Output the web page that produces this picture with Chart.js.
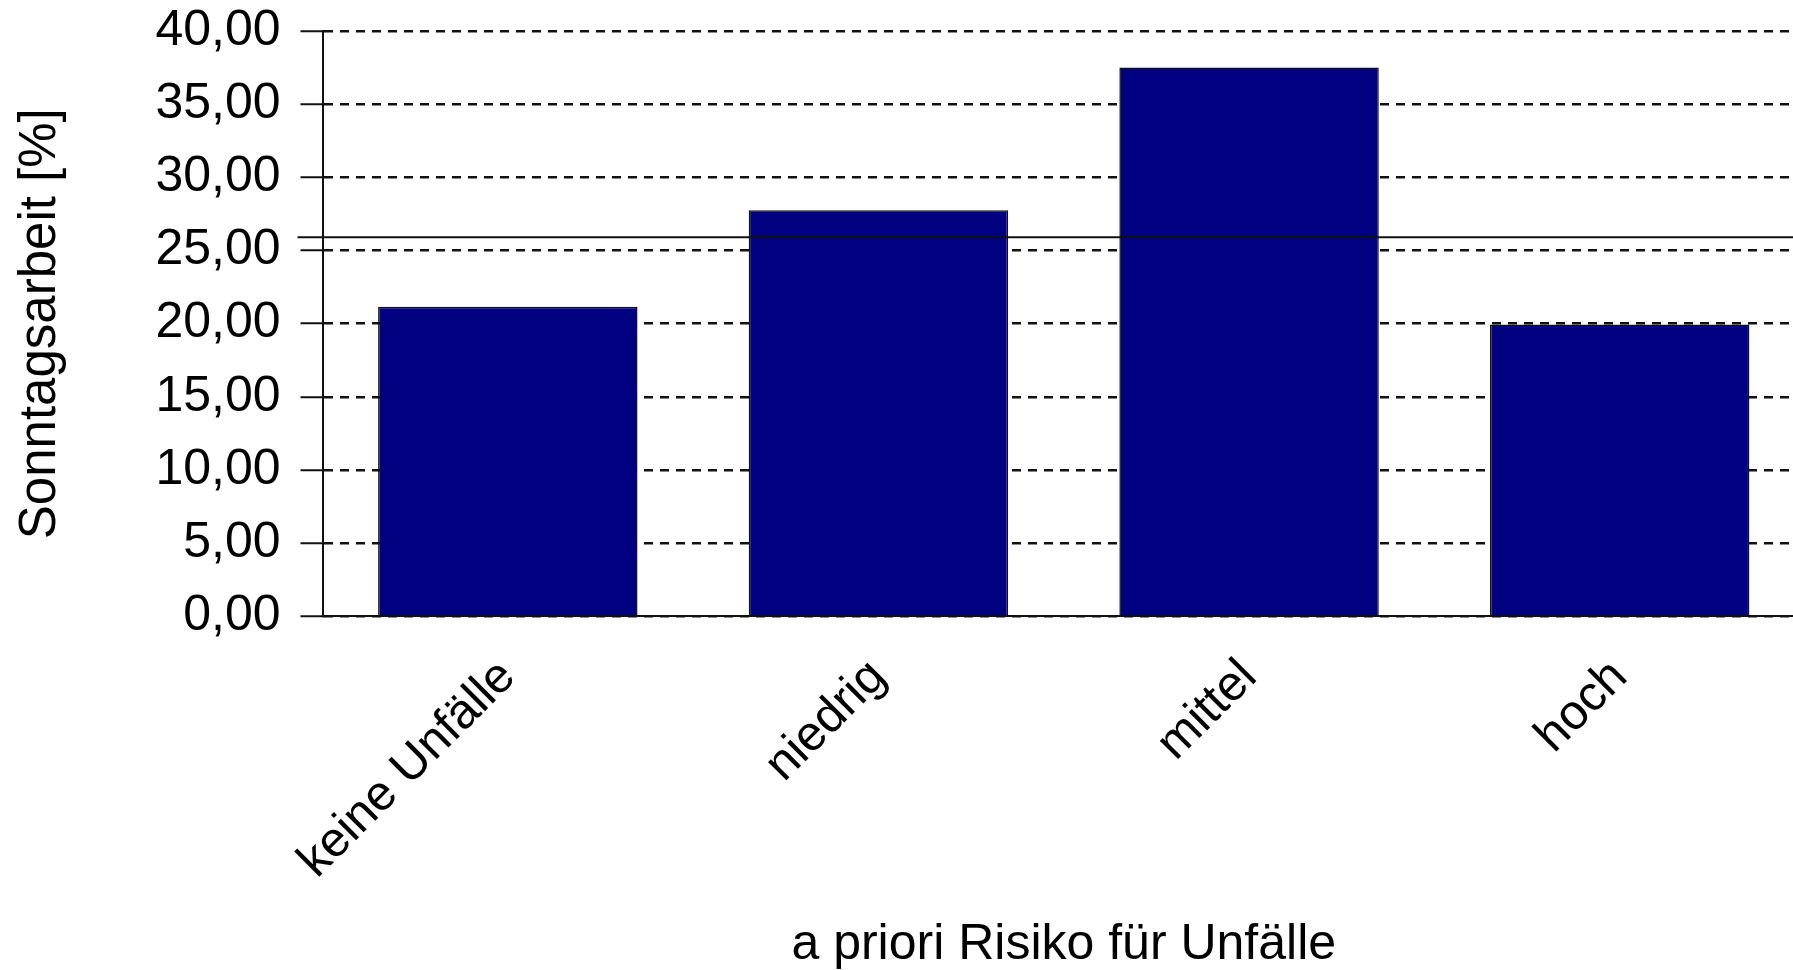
<!DOCTYPE html>
<html>
<head>
<meta charset="utf-8">
<script src="https://cdn.jsdelivr.net/npm/chart.js@4/dist/chart.umd.min.js"></script>
<style>
  html, body { margin: 0; padding: 0; background: #fff; overflow: hidden; }
  #wrap { width: 1810px; height: 970px; position: relative; }
</style>
</head>
<body>
<div id="wrap"><canvas id="chart"></canvas></div>
<script>
const categories = ['keine Unfälle', 'niedrig', 'mittel', 'hoch'];
const sundayWork = [21.15, 27.75, 37.5, 19.95];
const meanLine = 25.9;
const yTicks = [0, 5, 10, 15, 20, 25, 30, 35, 40];

const fontFamily = '"Liberation Sans", Arial, sans-serif';

// solid horizontal reference line across the whole plot
const refLine = {
  id: 'refLine',
  afterDatasetsDraw(chart) {
    const y = chart.scales.y;
    const py = y.getPixelForValue(meanLine);
    const ctx = chart.ctx;
    ctx.save();
    ctx.strokeStyle = '#111';
    ctx.lineWidth = 2;
    ctx.beginPath();
    ctx.moveTo(y.right - 25, py);
    ctx.lineTo(chart.chartArea.right + 10, py);
    ctx.stroke();
    ctx.restore();
  }
};

new Chart(document.getElementById('chart'), {
  type: 'bar',
  data: {
    labels: categories,
    datasets: [{
      data: sundayWork,
      backgroundColor: '#000080',
      borderColor: '#111',
      borderWidth: 1.5,
      borderSkipped: 'start',
      categoryPercentage: 1,
      barPercentage: 0.7
    }]
  },
  options: {
    responsive: true,
    maintainAspectRatio: false,
    animation: false,
    layout: { padding: { top: 31, right: 5, bottom: 0, left: 0 } },
    plugins: { legend: { display: false }, tooltip: { enabled: false } },
    scales: {
      x: {
        z: 1,
        grid: { display: false, drawTicks: false },
        border: { display: true, color: '#111', width: 2 },
        ticks: {
          color: '#000',
          font: { family: fontFamily, size: 49 },
          minRotation: 45,
          maxRotation: 45,
          padding: 32
        },
        title: {
          display: true,
          text: 'a priori Risiko für Unfälle',
          color: '#000',
          font: { family: fontFamily, size: 50, lineHeight: 1 },
          padding: { top: 0, bottom: 0 }
        },
        afterFit: (scale) => { scale.height = 353.6; }
      },
      y: {
        min: 0,
        max: 40,
        afterBuildTicks: (scale) => { scale.ticks = yTicks.map(v => ({ value: v })); },
        grid: {
          color: '#111',
          lineWidth: 2.5,
          tickLength: 22,
          tickColor: '#111',
          tickWidth: 2
        },
        border: { display: true, color: '#111', width: 2, dash: [9, 7] },
        ticks: {
          color: '#000',
          font: { family: fontFamily, size: 50 },
          padding: 20,
          callback: (v) => Number(v).toFixed(2).replace('.', ',')
        },
        title: {
          display: true,
          text: 'Sonntagsarbeit [%]',
          color: '#000',
          font: { family: fontFamily, size: 51, lineHeight: 1 },
          padding: { top: 15, bottom: 0 }
        },
        afterFit: (scale) => {
          scale.width = 322.5;
          scale.paddingTop = 0;
          scale.paddingBottom = 0;
        }
      }
    }
  },
  plugins: [refLine]
});
</script>
</body>
</html>
